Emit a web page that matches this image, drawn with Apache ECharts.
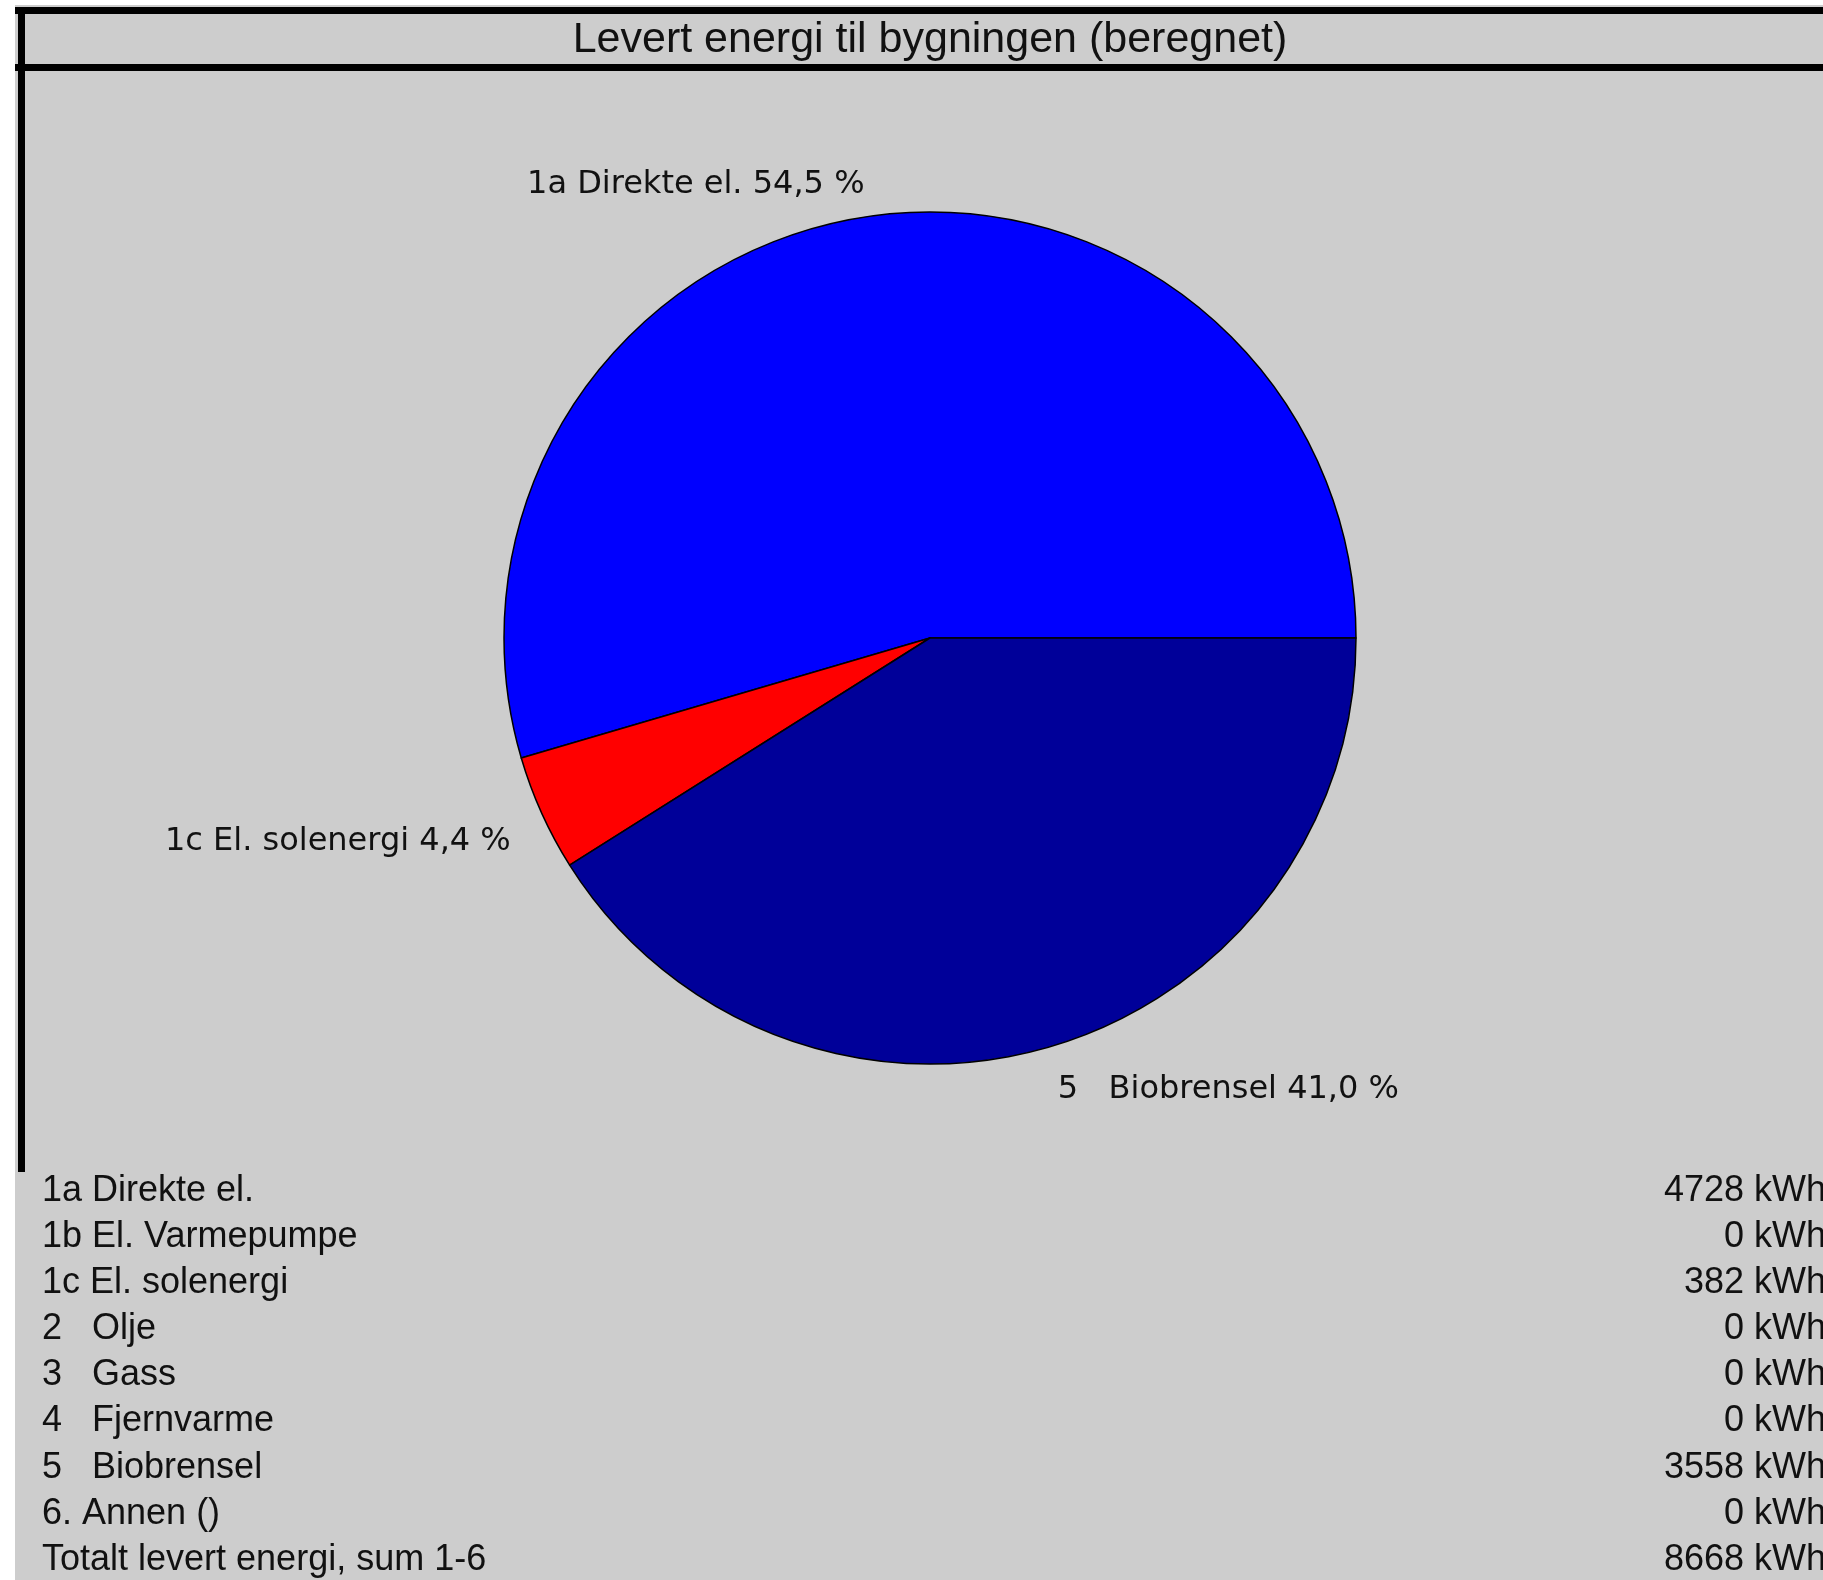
<!DOCTYPE html>
<html>
<head>
<meta charset="utf-8">
<style>
  html, body { margin: 0; padding: 0; background: #ffffff; }
  #chart { width: 1823px; height: 1580px; }
</style>
<script src="https://cdn.jsdelivr.net/npm/echarts@6/dist/echarts.min.js"></script>
</head>
<body>
<div id="chart"></div>
<script>
// Energy carriers and the delivered energy (kWh) for each of them
const categories = [
  '1a Direkte el.',
  '1b El. Varmepumpe',
  '1c El. solenergi',
  '2   Olje',
  '3   Gass',
  '4   Fjernvarme',
  '5   Biobrensel',
  '6. Annen ()'
];
const deliveredKWh = [4728, 0, 382, 0, 0, 0, 3558, 0];
const totalLabel = 'Totalt levert energi, sum 1-6';
const chartTitle = 'Levert energi til bygningen (beregnet)';

// Slice colours per carrier
const sliceColors = {
  '1a Direkte el.': '#0000ff',
  '1c El. solenergi': '#ff0000',
  '5   Biobrensel': '#000099'
};
// Small vertical nudges for the slice labels
const labelNudgeY = {
  '1a Direkte el.': 2,
  '1c El. solenergi': 14,
  '5   Biobrensel': 10
};

const total = deliveredKWh.reduce((a, b) => a + b, 0);
const pct = v => (v / total * 100).toFixed(1).replace('.', ',');

// Only carriers with a non-zero amount get a slice
const pieData = categories
  .map((name, i) => ({ name, value: deliveredKWh[i] }))
  .filter(d => d.value > 0)
  .map(d => ({ ...d, itemStyle: { color: sliceColors[d.name] } }));

// Table below the pie: one row per carrier plus the total
const tableRows = categories.map((name, i) => [name, deliveredKWh[i] + ' kWh'])
  .concat([[totalLabel, total + ' kWh']]);

const tableFont = { fontFamily: '"Liberation Sans", Arial, sans-serif', fontSize: 36 };
const rowTop = 1191, rowStep = 46.1;
const tableGraphics = [];
tableRows.forEach((row, i) => {
  const y = rowTop + i * rowStep;
  tableGraphics.push({
    type: 'text', x: 42, y: y, z: 5,
    style: Object.assign({ text: row[0], fill: '#111', textAlign: 'left', align: 'left',
      textVerticalAlign: 'middle', verticalAlign: 'middle' }, tableFont)
  });
  tableGraphics.push({
    type: 'text', x: 1826, y: y, z: 5,
    style: Object.assign({ text: row[1], fill: '#111', textAlign: 'right', align: 'right',
      textVerticalAlign: 'middle', verticalAlign: 'middle' }, tableFont)
  });
});

const chart = echarts.init(document.getElementById('chart'), null, { renderer: 'canvas' });
chart.setOption({
  backgroundColor: '#ffffff',
  animation: false,
  title: {
    text: chartTitle,
    left: 925,
    top: 14,
    textAlign: 'center',
    textStyle: {
      fontFamily: '"Liberation Sans", Arial, sans-serif',
      fontSize: 43,
      fontWeight: 'normal',
      color: '#111'
    }
  },
  graphic: [
    // grey panel
    { type: 'rect', z: -10, shape: { x: 15, y: 5, width: 1808, height: 1575 }, style: { fill: '#cdcdcd' } },
    // frame lines
    { type: 'rect', z: -5, shape: { x: 15, y: 7, width: 1808, height: 7 }, style: { fill: '#000' } },
    { type: 'rect', z: -5, shape: { x: 15, y: 64, width: 1808, height: 7 }, style: { fill: '#000' } },
    { type: 'rect', z: -5, shape: { x: 18, y: 7, width: 7, height: 1165 }, style: { fill: '#000' } }
  ].concat(tableGraphics),
  series: [{
    type: 'pie',
    center: [930, 638],
    radius: 426,
    startAngle: 0,
    clockwise: false,
    avoidLabelOverlap: false,
    data: pieData,
    itemStyle: { borderColor: '#000', borderWidth: 1.5 },
    label: {
      show: true,
      position: 'outside',
      distanceToLabelLine: 0,
      formatter: p => p.name + ' ' + pct(p.value) + ' %',
      fontFamily: '"DejaVu Sans", sans-serif',
      fontSize: 32,
      color: '#111'
    },
    labelLine: { show: false, length: 34, length2: 0 },
    labelLayout: params => ({ dy: labelNudgeY[pieData[params.dataIndex].name] || 0 }),
    emphasis: { disabled: true }
  }]
});
</script>
</body>
</html>
